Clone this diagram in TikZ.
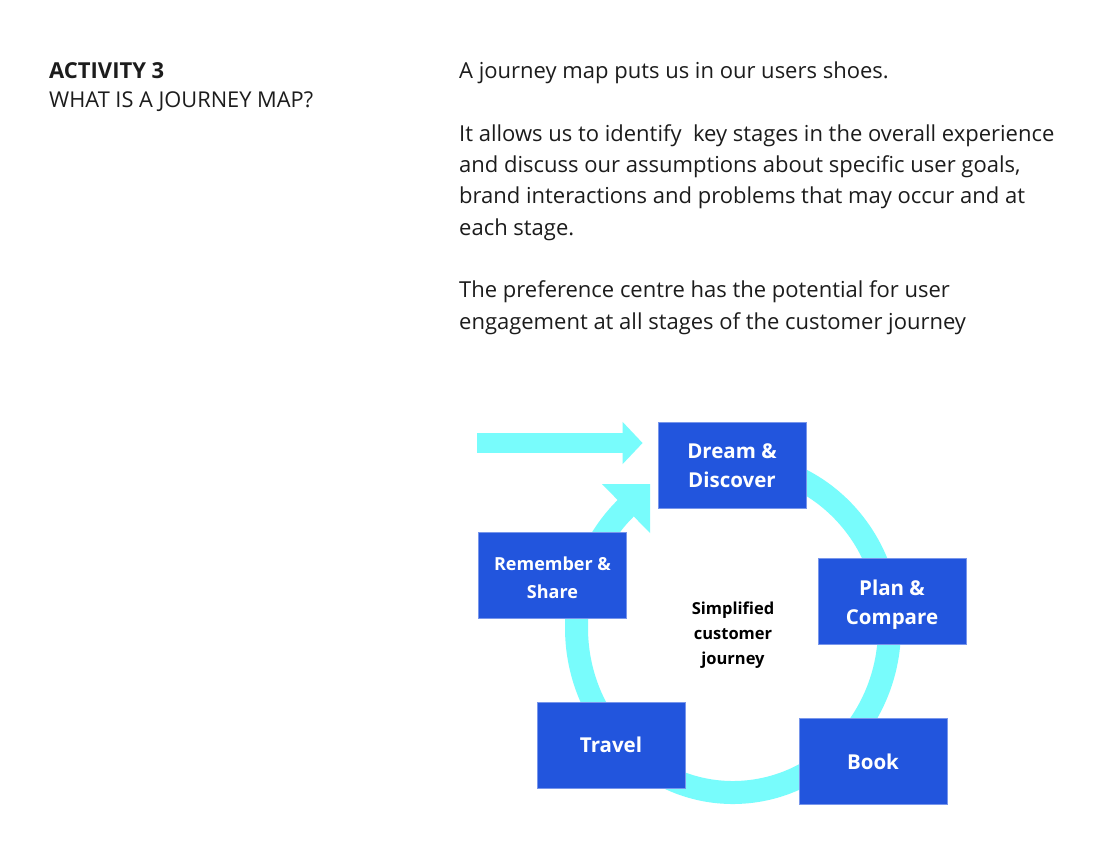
\documentclass[tikz,border=0pt]{standalone}
\usepackage{fontspec}
\setmainfont{Open Sans}
\usetikzlibrary{arrows.meta}
\definecolor{stageblue}{RGB}{34,85,221}
\definecolor{stageedge}{RGB}{120,150,235}
\definecolor{ringcyan}{RGB}{120,252,252}
\definecolor{bodytext}{RGB}{28,28,28}
\begin{document}
\begin{tikzpicture}[x=1pt,y=-1pt,
  stage/.style={draw=stageedge,line width=0.8pt,fill=stageblue,text=white,
    font=\bfseries\fontsize{20.5}{29}\selectfont,align=center,
    minimum width=148pt,minimum height=86pt,inner sep=0pt},
  body/.style={anchor=base west,inner sep=0pt,align=left,text=bodytext,
    font=\fontsize{22}{31.3}\selectfont},
  ring/.style={draw=ringcyan,line width=23pt}]
\useasboundingbox[fill=white] (0,0) rectangle (1108,862);
% heading and text
\node[body,font=\bfseries\fontsize{22}{29}\selectfont] (title) at (49,78) {ACTIVITY 3};
\node[body,font=\fontsize{21.8}{29}\selectfont] (subtitle) at (49,107) {WHAT IS A JOURNEY MAP?};
% base of a multi-line node = its last line
\node[body] (intro) at (459,329) {A journey map puts us in our users shoes.\\[31.3pt]
It allows us to identify \ key stages in the overall experience\\
and discuss our assumptions about specific user goals,\\
brand interactions and problems that may occur and at\\
each stage.\\[31.3pt]
The preference centre has the potential for user\\
engagement at all stages of the customer journey};
% the cycle
\def\cx{733}
\def\cy{628}
\draw[ring] (\cx,\cy) ++(-95:156.5 and 164.5)
  arc[start angle=-95,end angle=227,x radius=156.5,y radius=164.5];
\fill[ringcyan] (602,484) -- (650,484) -- (650,533) -- cycle;
\node[stage] (dream) at (732,465.5) {Dream \&\\Discover};
\node[stage] (plan) at (892,601) {\rule{0pt}{22pt}Plan \&\\Compare};
\node[stage] (book) at (873,761.5) {Book};
\node[stage] (travel) at (611,745) {Travel};
\node[stage,font=\bfseries\fontsize{18}{28}\selectfont] (share) at (552.5,575) {\rule{0pt}{20pt}Remember \&\\Share};
\node[align=center,inner sep=0pt,font=\bfseries\fontsize{16.5}{25}\selectfont] (hub) at (733,635) {Simplified\\customer\\journey};
\coordinate (entry) at (477,443);
\draw[ringcyan,line width=20pt,-{Triangle[length=20pt,width=41pt]},shorten >=15pt] (entry) -- (dream.west |- entry);
\end{tikzpicture}
\end{document}
